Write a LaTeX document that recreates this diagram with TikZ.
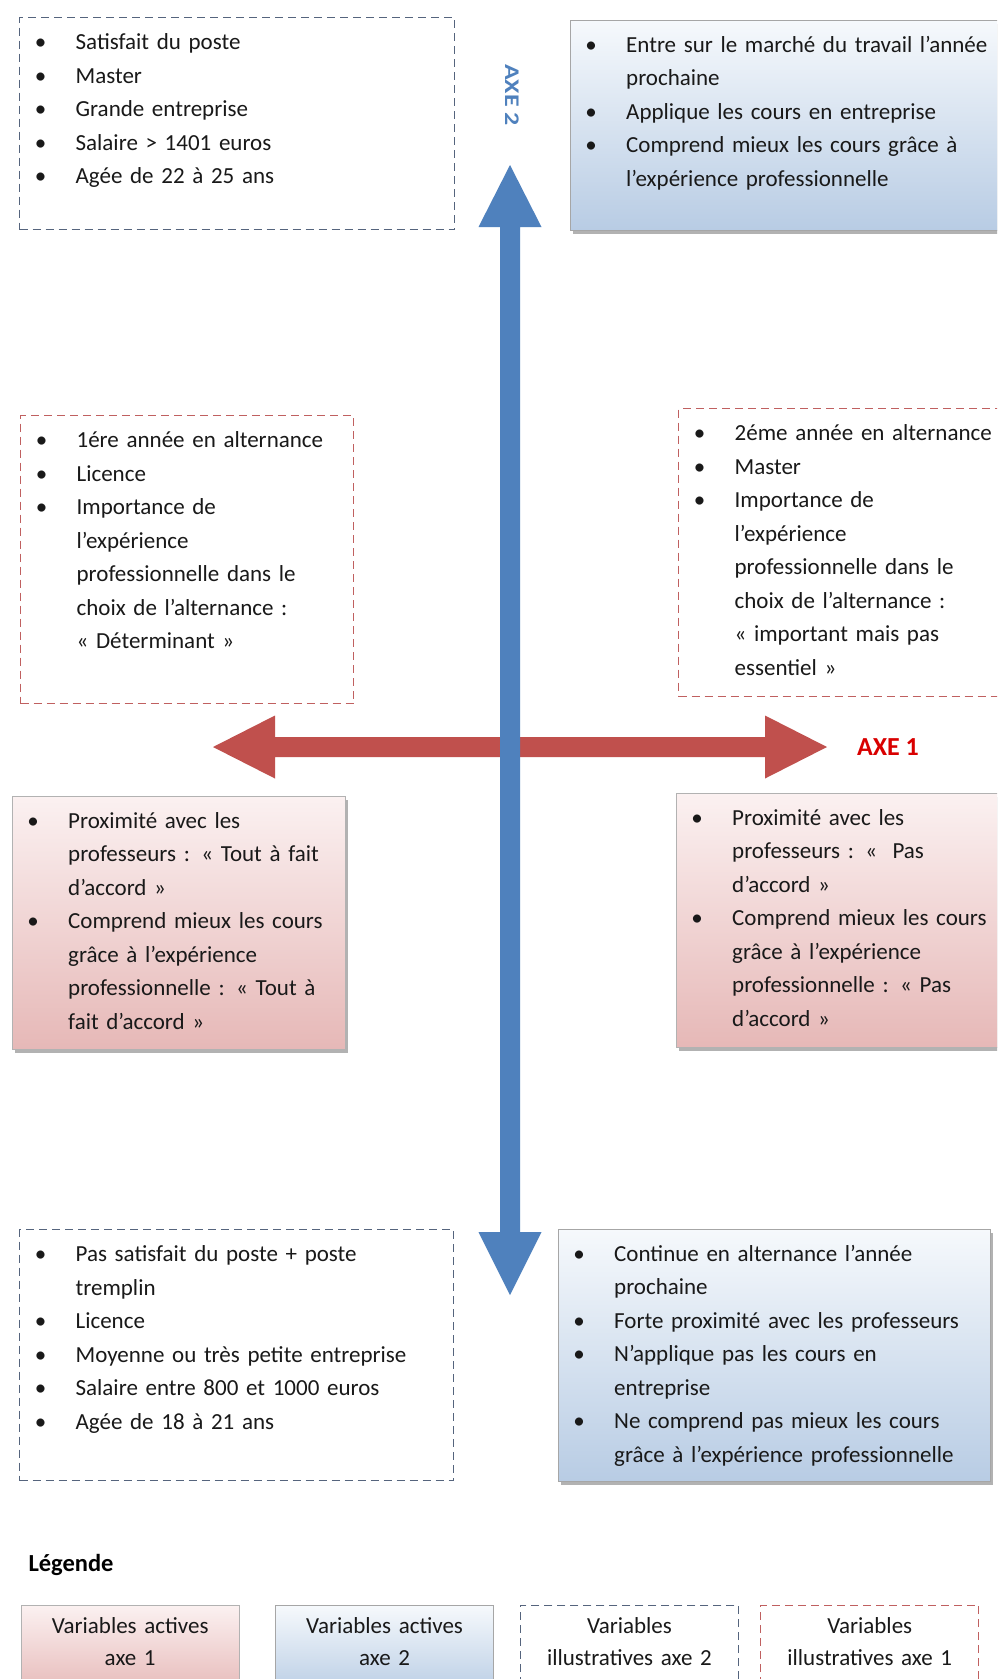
\documentclass[tikz,border=0pt]{standalone}
\usepackage{fontspec}
\setmainfont{Carlito}
\usetikzlibrary{positioning,shadows}

\definecolor{axebleu}{RGB}{79,129,189}
\definecolor{axerouge}{RGB}{192,80,77}
\definecolor{traitbleu}{RGB}{85,100,125}
\definecolor{traitrouge}{RGB}{192,96,96}
\definecolor{bleuhaut}{RGB}{246,249,252}
\definecolor{bleubas}{RGB}{184,204,228}
\definecolor{rosehaut}{RGB}{251,241,241}
\definecolor{rosebas}{RGB}{230,184,183}

% un point de liste, texte aligne a 56pt
\newcommand{\puce}[1]{\noindent\hangindent=56pt\hangafter=1\hbox to 56pt{\hbox to 42pt{\hss\textbullet\hss}\hss}#1\par}

\tikzset{
	boite/.style={anchor=north west, inner sep=0pt, text height=32pt, text=black!90,
		font=\fontsize{23}{33.5}\selectfont},
	ombre/.style={drop shadow={shadow xshift=3pt, shadow yshift=-4pt, fill=black, opacity=0.3}},
	ill2/.style={boite, draw=traitbleu, line width=1.3pt, dash pattern=on 8pt off 5pt},
	ill1/.style={boite, draw=traitrouge, line width=1.3pt, dash pattern=on 8pt off 5pt},
	act2/.style={boite, draw=black!35, ombre, top color=bleuhaut, bottom color=bleubas},
	act1/.style={boite, draw=black!30, ombre, top color=rosehaut, bottom color=rosebas},
	leg/.style={inner sep=0pt, text width=218pt, align=center, text height=28pt, text depth=62pt,
		text=black!90, font=\fontsize{23}{32.5}\selectfont}
}

\begin{document}
\begin{tikzpicture}[x=1pt, y=-1pt]
	\useasboundingbox (0,0) rectangle (997,1679);
	\fill[white] (0,0) rectangle (997,1679);
	\clip (0,0) rectangle (997,1679);

	% les deux axes
	\fill[axerouge] (213,747) -- (275,715.5) -- (275,737) -- (765,737) -- (765,715.5) -- (827,747)
		-- (765,778.5) -- (765,757) -- (275,757) -- (275,778.5) -- cycle;
	\fill[axebleu] (510,165) -- (541.5,227) -- (520,227) -- (520,1232) -- (541.5,1232) -- (510,1295)
		-- (478.5,1232) -- (500,1232) -- (500,227) -- (478.5,227) -- cycle;
	\node[text=axebleu, font=\fontsize{26}{26}\bfseries, rotate=-90, yscale=0.8] (axe2) at (512,95) {AXE 2};
	\node[text=red!85!black, font=\fontsize{26}{26}\bfseries] (axe1) at (888,747) {AXE 1};

	% haut
	\node[ill2, text width=435pt, text depth=180pt] (A) at (19,17) {
		\puce{Satisfait du poste}
		\puce{Master}
		\puce{Grande entreprise}
		\puce{Salaire > 1401 euros}
		\puce{Agée de 22 à 25 ans}};
	\node[act2, text width=440pt, text depth=178pt] (B) at (570,20) {
		\puce{Entre sur le marché du travail l’année\newline prochaine}
		\puce{Applique les cours en entreprise}
		\puce{Comprend mieux les cours grâce à\newline l’expérience professionnelle}};

	% milieu
	\node[ill1, text width=333pt, text depth=256pt] (C) at (20,415) {
		\puce{1ére année en alternance}
		\puce{Licence}
		\puce{Importance de\newline l’expérience\newline professionnelle dans le\newline choix de l’alternance :\newline « Déterminant »}};
	\node[ill1, text width=330pt, text depth=256pt] (D) at (678,408) {
		\puce{2éme année en alternance}
		\puce{Master}
		\puce{Importance de\newline l’expérience\newline professionnelle dans le\newline choix de l’alternance :\newline « important mais pas\newline essentiel »}};
	\node[act1, text width=333pt, text depth=221pt] (E) at (12,796) {
		\puce{Proximité avec les\newline professeurs : « Tout à fait\newline d’accord »}
		\puce{Comprend mieux les cours\newline grâce à l’expérience\newline professionnelle : « Tout à\newline fait d’accord »}};
	\node[act1, text width=330pt, text depth=222pt] (F) at (676,793) {
		\puce{Proximité avec les\newline professeurs : «~ Pas\newline d’accord »}
		\puce{Comprend mieux les cours\newline grâce à l’expérience\newline professionnelle : « Pas\newline d’accord »}};

	% bas
	\node[ill2, text width=434pt, text depth=219pt] (G) at (19,1229) {
		\puce{Pas satisfait du poste + poste\newline tremplin}
		\puce{Licence}
		\puce{Moyenne ou très petite entreprise}
		\puce{Salaire entre 800 et 1000 euros}
		\puce{Agée de 18 à 21 ans}};
	\node[act2, text width=432pt, text depth=220pt] (H) at (558,1229) {
		\puce{Continue en alternance l’année\newline prochaine}
		\puce{Forte proximité avec les professeurs}
		\puce{N’applique pas les cours en\newline entreprise}
		\puce{Ne comprend pas mieux les cours\newline grâce à l’expérience professionnelle}};

	% legende
	\node[anchor=base west, font=\fontsize{24.5}{24.5}\bfseries] (legende) at (25,1571) {Légende};
	\node[leg, anchor=north west, draw=black!30, top color=rosehaut, bottom color=rosebas] (leg1) at (21,1605) {Variables actives\\axe 1};
	\node[leg, draw=black!35, top color=bleuhaut, bottom color=bleubas, right=36pt of leg1] (leg2) {Variables actives\\axe 2};
	\node[leg, draw=traitbleu, line width=1.3pt, dash pattern=on 8pt off 5pt, right=26pt of leg2] (leg3) {Variables\\illustratives axe 2};
	\node[leg, draw=traitrouge, line width=1.3pt, dash pattern=on 8pt off 5pt, right=21pt of leg3] (leg4) {Variables\\illustratives axe 1};
\end{tikzpicture}
\end{document}
